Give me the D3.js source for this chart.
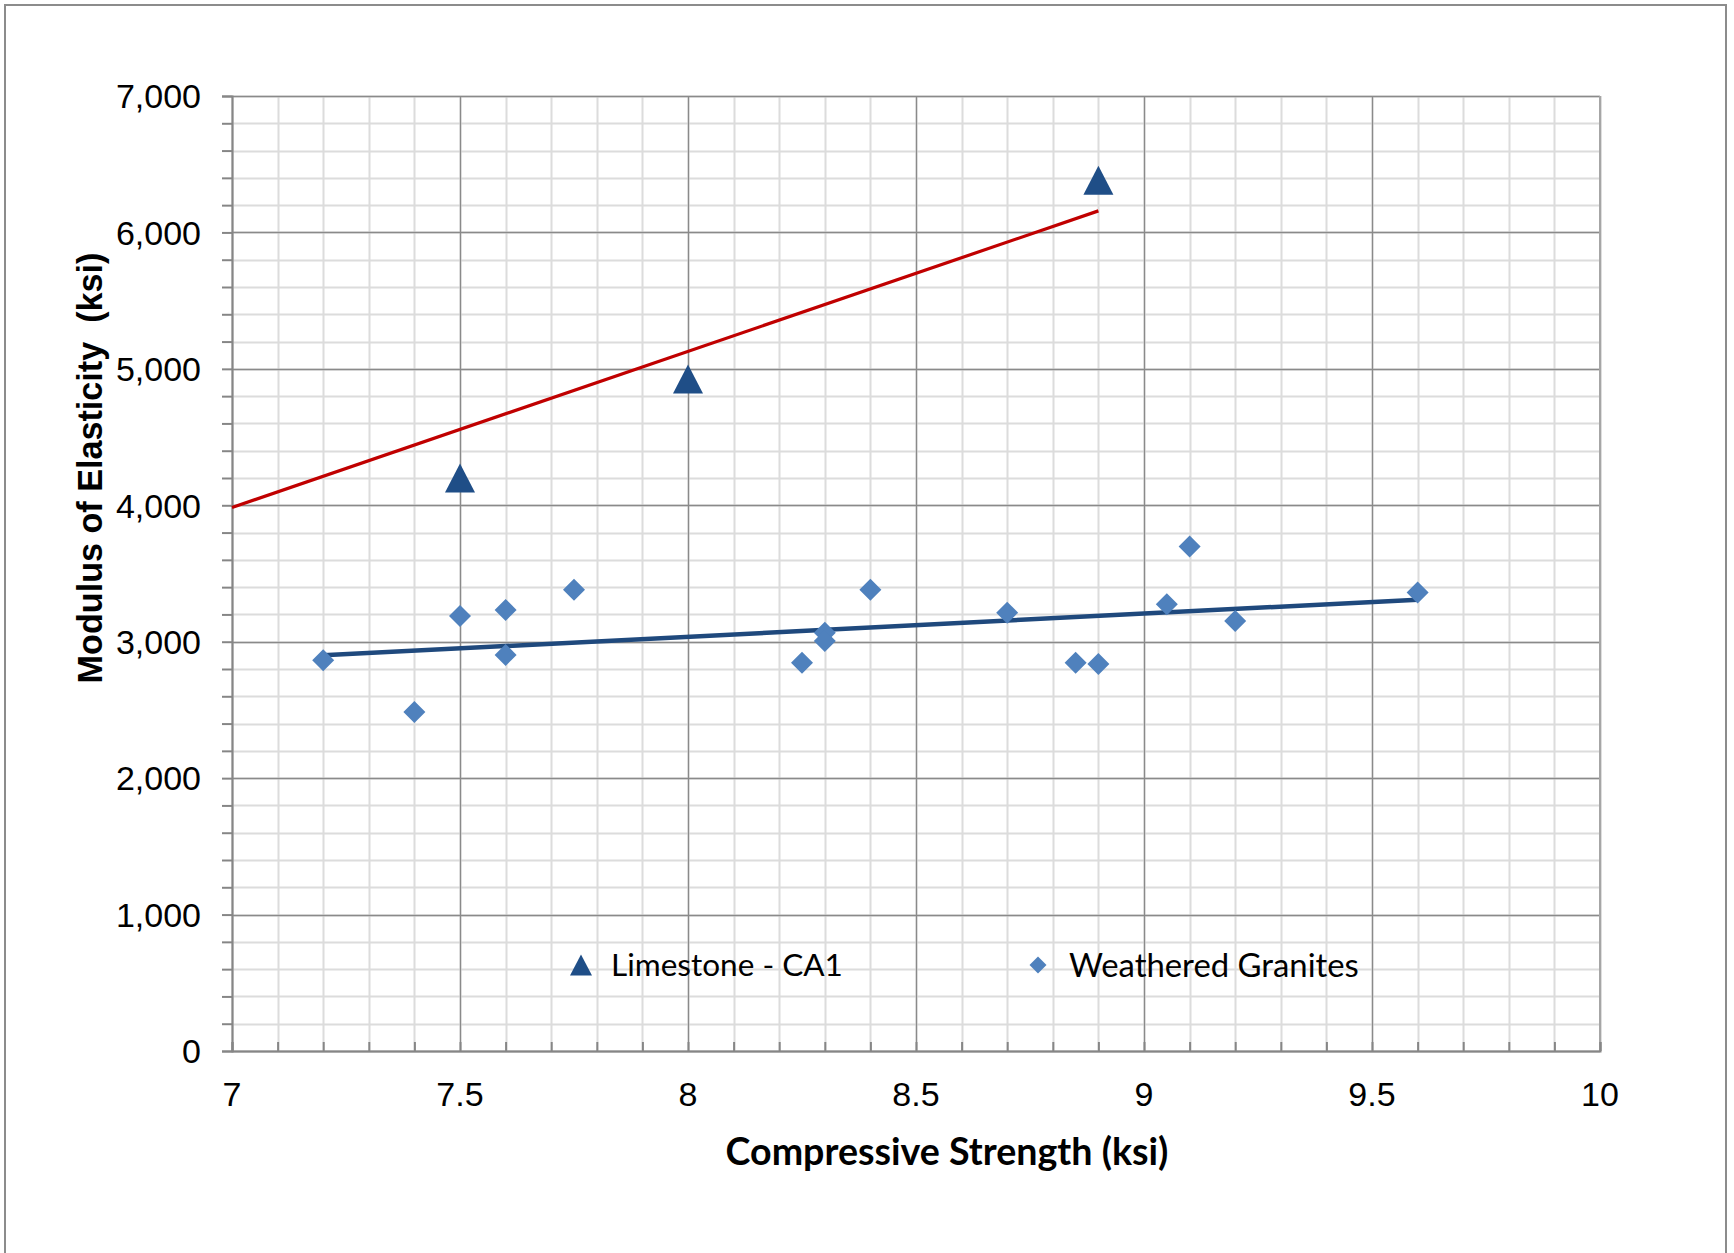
<!DOCTYPE html>
<html><head><meta charset="utf-8">
<script src="https://cdn.jsdelivr.net/npm/d3@7/dist/d3.min.js"></script>
<style>body{margin:0;background:#fff;overflow:hidden} text{white-space:pre}</style></head>
<body>
<svg id="chart" width="1734" height="1253"></svg>
<script>
// ---- data ----
const seriesNames = ["Limestone - CA1", "Weathered Granites"];
const limestoneX = [7.5, 8.0, 8.9];
const limestoneY = [4200, 4925, 6383];
const graniteX = [7.2, 7.4, 7.5, 7.6, 7.6, 7.75, 8.25, 8.3, 8.3, 8.4, 8.7, 8.85, 8.9, 9.05, 9.1, 9.2, 9.6];
const graniteY = [2865, 2485, 3189, 3233, 2903, 3380, 2845, 3065, 3006, 3380, 3213, 2845, 2837, 3275, 3697, 3152, 3360];
const limestoneTrendX = [7.0, 8.9];
const limestoneTrendY = [3984, 6158];
const graniteTrendX = [7.2, 9.6];
const graniteTrendY = [2900, 3308];
const xTickValues = [7, 7.5, 8, 8.5, 9, 9.5, 10];
const xTickLabels = ["7", "7.5", "8", "8.5", "9", "9.5", "10"];
const yTickValues = [0, 1000, 2000, 3000, 4000, 5000, 6000, 7000];
const yTickLabels = ["0", "1,000", "2,000", "3,000", "4,000", "5,000", "6,000", "7,000"];
const xTitle = "Compressive Strength (ksi)";
const yTitle = "Modulus of Elasticity  (ksi)";

// ---- layout ----
const L = 232, T = 96, W = 1368, H = 955;
const svg = d3.select("#chart");
const x = d3.scaleLinear().domain([7, 10]).range([L, L + W]);
const y = d3.scaleLinear().domain([0, 7000]).range([T + H, T]);

svg.append("rect").attr("x", 5).attr("y", 5).attr("width", 1721).attr("height", 1270)
  .attr("fill", "#fff").attr("stroke", "#8c8c8c").attr("stroke-width", 2);

const minorX = d3.range(70, 101).map(d => d / 10);
const minorY = d3.range(0, 7001, 200);
const g = svg.append("g");
// minor grid
g.selectAll(".mgx").data(minorX).join("line")
  .attr("x1", d => Math.round(x(d)) + 0.5).attr("x2", d => Math.round(x(d)) + 0.5)
  .attr("y1", T).attr("y2", T + H).attr("stroke", "#dcdcdc").attr("stroke-width", 2);
g.selectAll(".mgy").data(minorY).join("line")
  .attr("y1", d => Math.round(y(d)) + 0.5).attr("y2", d => Math.round(y(d)) + 0.5)
  .attr("x1", L).attr("x2", L + W).attr("stroke", "#dcdcdc").attr("stroke-width", 2);
// major grid
g.selectAll(".Mgx").data(xTickValues).join("line")
  .attr("x1", d => Math.round(x(d)) + 0.5).attr("x2", d => Math.round(x(d)) + 0.5)
  .attr("y1", T).attr("y2", T + H).attr("stroke", "#8a8a8a").attr("stroke-width", 1.3);
g.selectAll(".Mgy").data(yTickValues).join("line")
  .attr("y1", d => Math.round(y(d)) + 0.5).attr("y2", d => Math.round(y(d)) + 0.5)
  .attr("x1", L).attr("x2", L + W).attr("stroke", "#8a8a8a").attr("stroke-width", 1.3);
// plot border right
g.append("line").attr("x1", L + W).attr("x2", L + W).attr("y1", T).attr("y2", T + H).attr("stroke", "#a6a6a6").attr("stroke-width", 2);

// axes
const yAxis = d3.axisLeft(y).tickValues(minorY).tickSize(10).tickFormat("");
const ya = svg.append("g").attr("transform", `translate(${L},0)`).call(yAxis);
ya.selectAll("path,line").attr("stroke", "#868686").attr("stroke-width", 2);
const xAxis = d3.axisBottom(x).tickValues(minorX).tickSize(-9).tickFormat("");
const xa = svg.append("g").attr("transform", `translate(0,${T + H})`).call(xAxis);
xa.selectAll("path,line").attr("stroke", "#868686").attr("stroke-width", 2);

// tick labels
svg.selectAll(".yl").data(yTickValues).join("text")
  .attr("x", L - 31).attr("y", d => y(d)).attr("dy", "0.36em")
  .attr("text-anchor", "end").attr("font-family", "Liberation Sans, Arial, sans-serif")
  .attr("font-size", 34).attr("fill", "#000").text((d, i) => yTickLabels[i]);
svg.selectAll(".xl").data(xTickValues).join("text")
  .attr("x", d => x(d)).attr("y", T + H + 43).attr("dy", "0.36em")
  .attr("text-anchor", "middle").attr("font-family", "Liberation Sans, Arial, sans-serif")
  .attr("font-size", 34).attr("fill", "#000").text((d, i) => xTickLabels[i]);

function fitWidth(sel, target) {
  const w = sel.node().getComputedTextLength();
  const fs = parseFloat(sel.attr("font-size"));
  sel.attr("font-size", fs * target / w);
}
// axis titles
const xt = svg.append("text").attr("x", 947).attr("y", 1151).attr("dy", "0.36em")
  .attr("text-anchor", "middle").attr("font-family", "Lato, 'Open Sans', sans-serif")
  .attr("font-weight", "bold").attr("font-size", 34).text(xTitle);
fitWidth(xt, 443);
const yt = svg.append("text").attr("transform", "translate(90,468) rotate(-90)").attr("dy", "0.36em")
  .attr("text-anchor", "middle").attr("font-family", "Liberation Sans, Arial, sans-serif")
  .attr("font-weight", "bold").attr("font-size", 30).attr("xml:space", "preserve").text(yTitle);
fitWidth(yt, 431);

// trend lines
const line = d3.line().x(d => x(d[0])).y(d => y(d[1]));
svg.append("path").datum(limestoneTrendX.map((v, i) => [v, limestoneTrendY[i]]))
  .attr("d", line).attr("stroke", "#c00000").attr("stroke-width", 3.2).attr("fill", "none");
svg.append("path").datum(graniteTrendX.map((v, i) => [v, graniteTrendY[i]]))
  .attr("d", line).attr("stroke", "#1f497d").attr("stroke-width", 4.5).attr("fill", "none");

// markers
const tri = (w, h) => `M0,${-h / 2}L${w / 2},${h / 2}L${-w / 2},${h / 2}Z`;
const dia = (w) => `M0,${-w / 2}L${w / 2},0L0,${w / 2}L${-w / 2},0Z`;
svg.selectAll(".gr").data(graniteX.map((v, i) => [v, graniteY[i]])).join("path")
  .attr("d", dia(22)).attr("transform", d => `translate(${x(d[0])},${y(d[1])})`)
  .attr("fill", "#4f81bd");
svg.selectAll(".ls").data(limestoneX.map((v, i) => [v, limestoneY[i]])).join("path")
  .attr("d", tri(30, 29)).attr("transform", d => `translate(${x(d[0])},${y(d[1])})`)
  .attr("fill", "#1f4e87");

// legend
const lg = svg.append("g");
lg.append("path").attr("d", tri(22, 21)).attr("transform", "translate(581,965)").attr("fill", "#1f4e87");
const l1 = lg.append("text").attr("x", 611).attr("y", 965).attr("dy", "0.36em")
  .attr("font-family", "Lato, 'Open Sans', sans-serif").attr("font-size", 32).text(seriesNames[0]);
fitWidth(l1, 232);
lg.append("path").attr("d", dia(17)).attr("transform", "translate(1038,965)").attr("fill", "#4f81bd");
const l2 = lg.append("text").attr("x", 1069).attr("y", 965).attr("dy", "0.36em")
  .attr("font-family", "Lato, 'Open Sans', sans-serif").attr("font-size", 32).text(seriesNames[1]);
fitWidth(l2, 290);
</script>
</body></html>
